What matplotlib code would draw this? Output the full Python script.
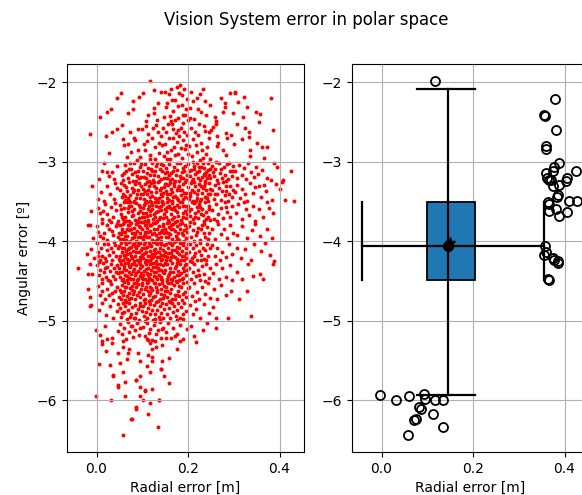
import numpy as np
import matplotlib
matplotlib.use("Agg")
import matplotlib.pyplot as plt
from matplotlib.patches import Rectangle

# radial error in mm, angular error in hundredths of a degree (sign dropped)
band_top = """116 198, 126 210, 44 220, 53 214, 8 244, 22 238, 31 234, 69 239, 80 233, 92 218, 102 213, 79 223,
125 232, 126 239, 113 241, 109 249, 135 226, 140 212, 133 247, 152 231, 158 215, 163 208, 171 222, 175 206,
181 214, 186 228, 192 209, 195 233, 148 244, 160 242, 168 236, 178 245, 189 241, 197 221, 155 226, 183 203,
172 248, 164 222, 150 212, 199 247, 186 216, 178 230, 162 249, 194 241, 207 212, 211 224, 204 232, 219 220,
226 215, 233 209, 238 224, 229 238, 214 246, 240 241, 221 233, 205 245, 247 229, 272 220, 281 226, 281 231,
298 239, 258 244, 262 249, 291 213, 276 238, 303 212, 303 214, 323 219, 330 231, 349 237, 358 240, 381 220,
321 244, 310 225"""

band_upper = """-15 265, 34 263, 45 259, 21 267, 28 289, 55 254, 69 277, 60 279, 84 272, 91 285, 95 294, 90 259, 99 259,
83 270, 66 294, 76 288, 88 298, 57 271, 73 262, 103 277, 105 285, 116 292, 113 265, 109 255, 130 254, 134 262,
122 270, 127 281, 140 268, 145 258, 118 297, 137 289, 143 279, 128 296, 111 274, 147 293, 124 258, 136 276,
152 262, 158 270, 164 253, 169 281, 173 264, 178 290, 184 257, 188 272, 193 284, 197 266, 155 288, 161 296,
167 259, 175 275, 181 268, 186 295, 190 251, 196 279, 150 277, 157 253, 163 285, 171 292, 179 260, 185 283,
192 263, 199 290, 154 296, 168 270, 207 257, 211 271, 215 263, 219 288, 224 252, 228 276, 233 295, 237 261,
241 282, 246 270, 203 280, 209 293, 222 266, 226 298, 231 285, 236 255, 240 290, 245 262, 249 297, 217 279,
254 256, 262 252, 250 260, 263 268, 265 276, 263 280, 277 285, 282 291, 283 264, 286 270, 294 266, 301 277,
306 253, 325 257, 334 262, 334 269, 350 276, 336 285, 336 293, 361 282, 318 271, 356 250, 385 260, 372 281,
365 295"""

band_three = """-9 331, 5 322, 11 311, 22 313, 34 313, 45 305, 38 322, 28 318, 16 301, 55 316, 62 304, 68 321, 71 309,
77 315, 82 302, 86 324, 90 311, 95 306, 98 319, 58 323, 64 311, 73 302, 79 324, 84 313, 92 320, 97 303, 60 314,
88 318, 75 309, 102 312, 106 303, 109 321, 113 308, 117 316, 121 302, 124 323, 128 311, 131 305, 135 318,
139 309, 142 322, 146 304, 149 314, 104 319, 111 314, 119 309, 126 317, 133 301, 137 324, 144 312, 148 320,
115 324, 122 311, 140 303, 152 308, 155 320, 159 303, 162 314, 166 322, 169 306, 173 317, 176 310, 180 324,
183 302, 187 313, 190 320, 194 305, 197 316, 154 313, 161 323, 168 311, 175 302, 182 318, 189 308, 196 323,
158 317, 171 324, 185 321, 192 312, 201 303, 204 318, 207 310, 210 322, 213 305, 216 315, 219 301, 222 320,
225 311, 228 306, 231 319, 234 308, 237 324, 240 313, 243 302, 246 317, 249 309, 202 312, 208 324, 214 309,
220 313, 226 323, 232 302, 238 316, 244 310, 248 321, 211 300, 223 307, 235 315, 241 321, 252 305, 256 318,
259 309, 263 323, 267 302, 270 314, 274 320, 278 307, 281 316, 285 303, 288 322, 292 311, 296 318, 299 305,
254 313, 261 300, 272 309, 283 324, 290 301, 297 312, 303 312, 308 320, 312 304, 318 316, 323 308, 327 322,
331 302, 338 313, 344 319, 348 307, 353 315, 361 310, 372 320, 381 323, 388 302, 395 307, 426 311, 407 323,
405 325,
10 338, 22 331, 30 341, 38 347, 45 333, 17 349, 41 327, 3 347, 52 336, 56 344, 60 329, 63 348, 67 337, 70 326,
74 342, 77 333, 81 349, 84 328, 88 340, 91 335, 94 346, 98 330, 53 327, 58 340, 65 332, 72 349, 79 338, 86 345,
93 327, 97 341, 62 343, 83 336, 69 345, 101 334, 104 347, 107 328, 110 340, 113 336, 116 349, 119 327, 122 343,
125 331, 128 346, 131 338, 134 326, 137 345, 140 333, 143 349, 146 339, 149 328, 102 341, 108 349, 114 330,
120 338, 126 326, 132 347, 138 336, 144 343, 148 332, 105 337, 117 344, 129 333, 141 340, 111 326, 135 350,
151 337, 154 346, 157 329, 160 341, 163 334, 166 349, 169 327, 172 343, 175 336, 178 348, 181 330, 184 342,
187 335, 190 347, 193 326, 196 339, 199 345, 152 328, 158 348, 164 338, 170 331, 176 345, 182 336, 188 328,
194 344, 155 340, 167 344, 179 333, 191 339, 161 327, 201 332, 204 343, 207 327, 210 349, 213 338, 216 331,
219 345, 222 336, 225 328, 228 347, 231 339, 234 330, 237 344, 240 336, 243 349, 246 327, 249 341, 202 347,
208 335, 214 326, 220 340, 226 349, 232 333, 238 327, 244 340, 248 334, 205 339, 217 349, 229 331, 241 345,
252 336, 256 347, 260 329, 264 341, 268 333, 272 348, 276 326, 280 342, 284 337, 288 349, 292 330, 296 344,
258 340, 266 327, 274 337, 282 331, 290 341, 298 336, 302 338, 307 329, 313 346, 319 334, 325 341, 330 349,
336 327, 341 339, 346 332, 322 350, 355 331, 360 344, 371 337, 384 348, 393 328, 366 329, 412 348, 432 349,
402 334"""

band_four = """-12 362, -15 379, 4 358, 11 372, 18 353, 24 366, 31 357, 37 370, 43 361, 48 374, 8 365, 27 373, 40 352,
15 362, 51 354, 54 366, 57 372, 60 358, 63 369, 66 351, 69 363, 72 374, 75 356, 78 368, 81 360, 84 373, 87 352,
90 365, 93 371, 96 357, 99 369, 53 360, 59 351, 65 374, 71 355, 77 362, 83 351, 89 374, 95 362, 56 369, 68 358,
80 367, 92 354, 74 350, 101 358, 103 370, 106 352, 109 364, 112 373, 115 355, 118 367, 121 360, 124 372,
127 351, 130 363, 133 374, 136 357, 139 369, 142 361, 145 353, 148 366, 102 364, 107 374, 113 359, 119 351,
125 366, 131 356, 137 372, 143 350, 149 359, 104 354, 110 368, 116 362, 122 354, 128 370, 134 362, 140 355,
146 371, 111 351, 151 362, 154 351, 157 373, 160 358, 163 366, 166 352, 169 370, 172 361, 175 354, 178 368,
181 357, 184 373, 187 350, 190 364, 193 356, 196 371, 199 359, 152 370, 158 355, 164 372, 170 357, 176 363,
182 351, 188 369, 194 362, 153 357, 165 360, 177 374, 189 356, 198 366, 201 355, 204 368, 207 359, 210 372,
213 352, 216 364, 219 357, 222 371, 225 353, 228 366, 231 360, 234 374, 237 351, 240 363, 243 369, 246 356,
249 373, 203 362, 209 351, 215 370, 221 362, 227 357, 233 367, 239 372, 245 360, 252 361, 257 372, 261 353,
266 366, 271 358, 276 371, 281 350, 286 363, 291 369, 296 356, 263 374, 283 357, 304 365, 310 353, 317 372,
326 360, 333 367, 341 356, 347 374, 356 359, 363 370, 378 358, 386 365, 373 351,
-18 380, -7 396, 2 381, 7 393, 12 377, 17 389, 22 398, 27 384, 32 376, 37 392, 42 381, 47 395, 4 388, 14 396,
24 379, 34 387, 44 378, 49 389, 51 379, 53 391, 56 384, 58 397, 61 376, 63 388, 66 393, 68 380, 71 386, 73 399,
76 377, 78 390, 81 383, 83 395, 86 378, 88 387, 91 394, 93 381, 96 389, 98 376, 52 397, 57 378, 62 393, 67 385,
72 379, 77 396, 82 389, 87 399, 92 376, 97 394, 55 388, 65 398, 75 384, 85 391, 95 382, 100 385, 102 397,
105 379, 107 391, 110 383, 112 376, 115 394, 117 387, 120 380, 122 398, 125 389, 127 377, 130 392, 132 384,
135 396, 137 381, 140 388, 142 399, 145 378, 147 390, 149 384, 101 376, 106 388, 111 395, 116 379, 121 391,
126 384, 131 376, 136 389, 141 395, 146 381, 103 393, 113 388, 123 377, 133 398, 143 386, 108 380, 128 399,
151 388, 153 377, 156 395, 158 382, 161 391, 163 379, 166 397, 168 385, 171 376, 173 393, 176 381, 178 389,
181 398, 183 384, 186 377, 188 392, 191 386, 193 379, 196 396, 198 383, 152 394, 157 389, 162 385, 167 378,
172 387, 177 396, 182 378, 187 390, 192 399, 197 388, 159 376, 174 399, 202 381, 206 394, 210 386, 214 377,
218 392, 222 383, 226 398, 230 379, 234 389, 238 395, 242 382, 246 390, 204 376, 212 399, 220 388, 228 385,
236 378, 244 397, 253 385, 259 397, 266 378, 272 391, 279 384, 285 396, 292 380, 298 389, 306 392, 318 381,
329 396, 340 386, 347 378, 358 393, 372 385, 384 396"""

band_five = """-11 410, -20 416, -5 421, 1 402, 4 414, 7 423, 10 408, 13 418, 16 404, 19 421, 22 411, 25 403, 28 417,
31 409, 34 424, 37 414, 40 405, 43 419, 46 408, 49 422, 3 419, 21 425, 39 401, 50 406, 52 418, 54 402, 56 413,
58 424, 60 409, 62 420, 64 404, 66 416, 68 410, 70 423, 72 401, 74 415, 76 407, 78 421, 80 412, 82 403, 84 418,
86 409, 88 424, 90 405, 92 414, 94 420, 96 402, 98 411, 51 425, 55 409, 59 417, 63 401, 67 422, 71 408, 75 419,
79 403, 83 425, 87 414, 91 401, 95 423, 99 417, 65 412, 85 406, 100 409, 102 421, 104 403, 106 415, 108 424,
110 407, 112 418, 114 402, 116 412, 118 423, 120 406, 122 416, 124 401, 126 419, 128 410, 130 425, 132 404,
134 414, 136 420, 138 408, 140 417, 142 403, 144 422, 146 411, 148 405, 101 416, 105 401, 109 413, 113 425,
117 405, 121 421, 125 411, 129 402, 133 420, 137 413, 141 424, 145 417, 149 419, 107 409, 127 415, 139 401,
119 418, 150 413, 152 403, 155 420, 157 409, 160 424, 162 415, 165 405, 167 418, 170 401, 172 411, 175 422,
177 407, 180 416, 182 402, 185 423, 187 412, 190 405, 192 419, 195 409, 197 421, 199 403, 151 424, 156 415,
161 402, 166 411, 171 420, 176 414, 181 408, 186 418, 191 424, 196 415, 158 401, 178 425, 188 401, 163 420,
202 414, 205 403, 208 421, 211 409, 214 418, 217 405, 220 424, 223 412, 226 402, 229 417, 232 408, 235 422,
238 411, 241 403, 244 419, 247 409, 204 425, 216 415, 228 424, 240 424, 252 405, 258 418, 263 409, 269 423,
275 413, 282 420, 289 404, 296 416, 306 408, 315 421, 324 410, 337 424, 345 403, 360 412, 369 402, 379 417,
388 425,
-40 434, -18 441, -9 441, -14 428, 2 430, 5 442, 8 436, 11 448, 14 427, 17 439, 20 445, 23 432, 26 449, 29 437,
32 428, 35 444, 38 434, 41 447, 44 430, 47 440, 6 426, 18 433, 30 450, 42 438, 50 433, 52 445, 54 428, 56 439,
58 448, 60 431, 62 442, 64 436, 66 449, 68 427, 70 438, 72 446, 74 432, 76 441, 78 429, 80 447, 82 435, 84 443,
86 430, 88 449, 90 437, 92 426, 94 444, 96 433, 98 440, 51 438, 55 449, 59 435, 63 427, 67 444, 71 431, 75 448,
79 437, 83 428, 87 440, 91 447, 95 429, 99 446, 100 431, 102 443, 104 437, 106 448, 108 428, 110 440, 112 434,
114 446, 116 429, 118 441, 120 436, 122 449, 124 432, 126 444, 128 427, 130 438, 132 447, 134 433, 136 442,
138 428, 140 445, 142 436, 144 449, 146 430, 148 440, 101 447, 105 426, 109 435, 113 442, 117 448, 121 427,
125 439, 129 445, 133 429, 137 436, 141 448, 145 438, 149 427, 111 450, 131 432, 150 436, 153 447, 155 429,
158 441, 160 433, 163 448, 165 427, 168 439, 170 445, 173 431, 175 442, 178 437, 180 449, 183 428, 185 440,
188 434, 190 446, 193 430, 195 443, 198 436, 151 428, 156 444, 161 438, 166 449, 171 434, 176 427, 181 443,
186 448, 191 437, 196 428, 154 450, 174 450, 202 433, 206 447, 210 438, 214 429, 218 444, 222 436, 226 449,
230 431, 235 441, 240 428, 245 446, 249 434, 208 426, 224 442, 237 450, 254 440, 261 428, 268 447, 274 434,
283 445, 291 430, 297 449, 308 438, 319 447, 331 429, 342 444, 357 441, 364 448, 386 428"""

band_lower = """-14 470, -18 460, 3 456, 8 467, 13 452, 18 472, 22 460, 27 468, 31 454, 36 474, 40 463, 45 457, 49 470,
11 462, 34 465, 51 461, 53 472, 55 455, 57 467, 59 451, 61 463, 63 474, 65 458, 67 469, 69 453, 71 465, 73 459,
75 471, 77 456, 79 466, 81 452, 83 462, 85 473, 87 457, 89 468, 91 454, 93 464, 95 470, 97 460, 99 452, 54 464,
62 458, 70 473, 78 461, 86 452, 100 455, 102 466, 105 460, 107 472, 110 452, 112 463, 115 468, 117 457, 120 474,
122 461, 125 453, 127 469, 130 458, 132 464, 135 475, 137 454, 140 466, 142 460, 145 471, 147 456, 149 463,
103 474, 108 458, 113 451, 118 465, 123 470, 128 452, 133 461, 138 472, 143 453, 148 468, 119 459, 151 458,
154 470, 157 453, 160 465, 163 460, 166 473, 169 455, 172 467, 175 451, 178 462, 181 469, 184 457, 187 474,
190 452, 193 464, 196 470, 199 459, 153 463, 162 452, 171 472, 180 456, 189 466, 198 451, 158 475, 176 468,
203 457, 208 469, 213 452, 219 464, 225 473, 231 458, 237 466, 243 453, 248 471, 215 475, 256 460, 263 473,
271 455, 282 467, 293 462, 311 473, 330 462,
-11 480, -14 481, 5 486, 12 478, 21 493, 29 482, 37 497, 44 488, 48 479, 51 484, 54 495, 57 478, 60 489, 63 481,
66 498, 69 486, 72 477, 75 492, 78 483, 81 496, 84 480, 87 490, 90 485, 93 499, 96 478, 99 488, 56 490, 64 476,
73 495, 85 496, 94 482, 101 482, 103 494, 106 477, 108 489, 111 497, 113 484, 116 479, 118 492, 121 486,
123 499, 126 480, 128 491, 131 476, 133 487, 136 495, 138 481, 141 490, 143 478, 146 497, 148 485, 105 500,
115 475, 127 498, 139 499, 152 479, 155 491, 158 484, 161 497, 164 477, 167 489, 170 482, 173 494, 176 487,
179 478, 182 496, 185 483, 188 491, 192 477, 196 488, 160 476, 175 499, 190 498, 205 480, 211 492, 218 485,
226 497, 234 479, 246 490, 254 483, 261 496, 287 497, 338 494"""

band_tail = """-1 511, 8 518, 19 507, 33 522, 46 513, 52 504, 56 516, 60 509, 64 523, 68 501, 72 514, 76 507, 80 520,
84 511, 88 503, 92 518, 96 509, 58 525, 78 506, 102 508, 106 519, 110 503, 114 515, 118 510, 122 524, 126 505,
130 517, 134 512, 138 502, 142 521, 146 509, 112 524, 128 500, 143 510, 152 514, 157 503, 162 521, 167 509,
175 516, 182 505, 190 523, 197 510, 207 506, 214 519, 232 512, 242 503, 262 509, 218 527,
12 525, 12 529, 22 523, 33 528, 20 538, 47 540, 69 540, 58 533, 72 535, 67 548, 90 541, 96 551, 113 543,
122 546, 121 536, 130 533, 116 528, 110 523, 128 525, 144 531, 151 522, 175 536, 182 525, 171 519, 159 547,
5 554, 29 556, 37 568, 37 569, 47 581, 48 583, 62 577, 57 564, 51 553, 86 574, 87 575, 96 569, 106 587,
107 588, 121 586, 96 583, 118 565, 111 557, 121 551, 147 569, 140 560, 141 561, 144 551, 159 578, -1 594,
31 599, 62 595, 95 594, 102 599, 116 603, 137 599, 137 600, 86 609, 87 611, 76 624, 77 623, 113 617, 135 633,
58 643"""

# 2D box summary [m] / [deg]
radial_box = dict(lo=-0.043, q1=0.100, med=0.145, q3=0.205, hi=0.356)
angular_box = dict(lo=-5.93, q1=-4.49, med=-4.06, q3=-3.51, hi=-2.08)

out_radial = [-0.003, 0.031, 0.060, 0.092, 0.096, 0.116, 0.135, 0.083, 0.087, 0.076, 0.072, 0.112, 0.134,
              0.057, 0.116, 0.356, 0.357, 0.380, 0.382, 0.359, 0.359, 0.387, 0.377, 0.359, 0.361, 0.366,
              0.374, 0.425, 0.406, 0.403, 0.374, 0.388, 0.371, 0.385, 0.384, 0.410, 0.428, 0.363, 0.365,
              0.365, 0.381, 0.388, 0.405, 0.358, 0.359, 0.356, 0.374, 0.376, 0.385, 0.386, 0.364, 0.365]
out_angular = [-5.93, -5.99, -5.94, -5.92, -5.98, -6.00, -5.99, -6.09, -6.11, -6.23, -6.25, -6.17, -6.33,
               -6.43, -1.99, -2.41, -2.42, -2.21, -2.60, -2.80, -2.84, -3.01, -3.06, -3.14, -3.21, -3.23,
               -3.12, -3.11, -3.20, -3.24, -3.31, -3.29, -3.23, -3.42, -3.44, -3.49, -3.49, -3.51, -3.53,
               -3.62, -3.60, -3.68, -3.63, -4.06, -4.14, -4.17, -4.21, -4.23, -4.27, -4.25, -4.47, -4.49]


def parse(txt):
    pts = np.array([p.split() for p in txt.replace("\n", " ").split(",") if p.strip()], dtype=float)
    return pts[:, 0] / 1000.0, -pts[:, 1] / 100.0


bands = [band_top, band_upper, band_three, band_four, band_five, band_lower, band_tail]
parsed = [parse(b) for b in bands]
radial_err = np.concatenate([p[0] for p in parsed])
angular_err = np.concatenate([p[1] for p in parsed])

fig = plt.figure(figsize=(5.82, 4.95), dpi=100)
fig.suptitle("Vision System error in polar space", x=0.526, y=0.96, va="center", fontsize=12)

W, H = 582.0, 495.0
ax1 = fig.add_axes([67 / W, 43 / H, 237 / W, 388 / H])
ax2 = fig.add_axes([352 / W, 43 / H, 237 / W, 388 / H])

# raw samples
ax1.scatter(radial_err, angular_err, s=8, c="red", linewidths=0)
ax1.set_xlabel("Radial error [m]")
ax1.set_ylabel("Angular error [º]")

# 2D boxplot
rb, ab = radial_box, angular_box
ax2.add_patch(Rectangle((rb["q1"], ab["q1"]), rb["q3"] - rb["q1"], ab["q3"] - ab["q1"],
                        facecolor="#1f77b4", edgecolor="k", lw=1.3, zorder=2))
lw = 1.6
ax2.plot([rb["lo"], rb["hi"]], [ab["med"], ab["med"]], color="k", lw=lw, zorder=3)
ax2.plot([rb["med"], rb["med"]], [ab["lo"], ab["hi"]], color="k", lw=lw, zorder=3)
ax2.plot([rb["lo"], rb["lo"]], [ab["q1"], ab["q3"]], color="k", lw=lw, zorder=3)
ax2.plot([rb["hi"], rb["hi"]], [ab["q1"], ab["q3"]], color="k", lw=lw, zorder=3)
ax2.plot([0.078, rb["q3"]], [ab["lo"], ab["lo"]], color="k", lw=lw, zorder=3)
ax2.plot([0.078, rb["q3"]], [ab["hi"], ab["hi"]], color="k", lw=lw, zorder=3)
ax2.plot(rb["med"], ab["med"], "o", color="k", ms=7, zorder=4)
ax2.plot(rb["med"] + 0.005, ab["med"] + 0.04, "*", color="k", ms=8, zorder=4)
ax2.plot(out_radial, out_angular, "o", mfc="none", mec="k", ms=6.5, mew=1.3, zorder=4)
ax2.set_xlabel("Radial error [m]")

for ax in (ax1, ax2):
    ax.set_xlim(-0.0645, 0.4535)
    ax.set_ylim(-6.65, -1.77)
    ax.set_xticks([0.0, 0.2, 0.4])
    ax.set_yticks([-2, -3, -4, -5, -6])
    ax.grid(True)

fig.savefig("out.png", dpi=100)
